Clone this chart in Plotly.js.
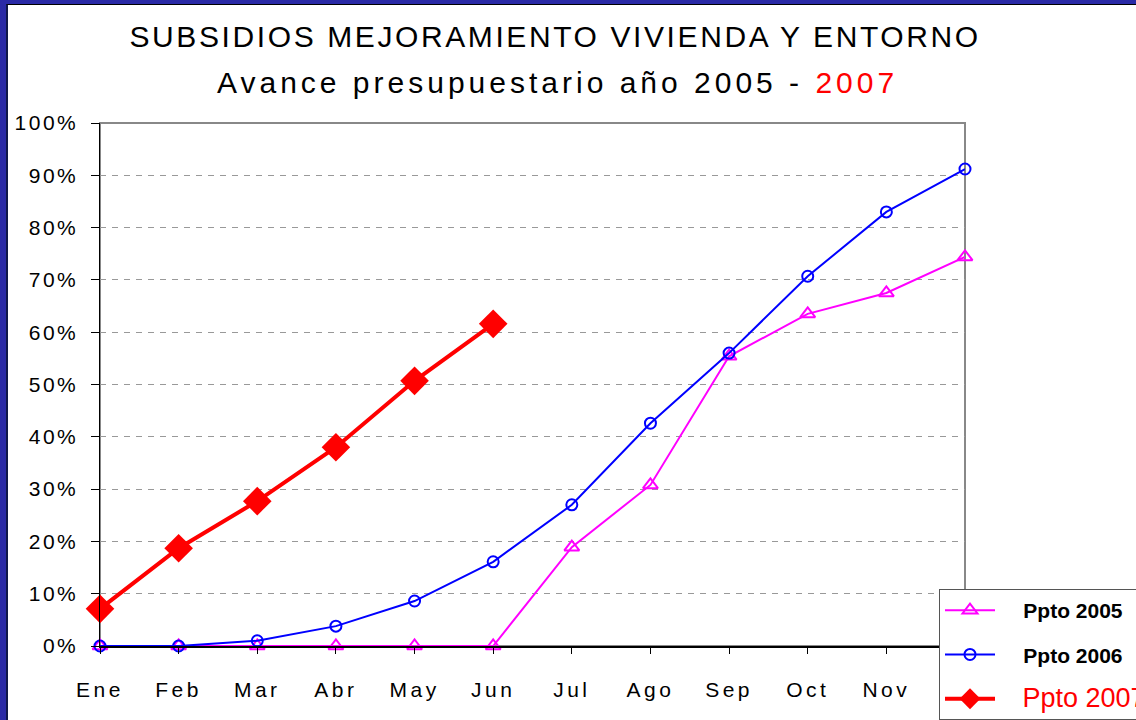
<!DOCTYPE html>
<html>
<head>
<meta charset="utf-8">
<script src="https://cdn.plot.ly/plotly-3.0.1.min.js"></script>
<style>
  html, body { margin: 0; padding: 0; background: #2a2aa6; width: 1136px; height: 720px; overflow: hidden; }
  #wrap { position: absolute; left: 6px; top: 4px; width: 1130px; height: 716px;
          border-left: 2px solid #10184a; border-top: 1px solid #000; background: #fff; }
  #chart { width: 1128px; height: 715px; }
  .gtitle { letter-spacing: 2.6px; }
  .annotation-text { letter-spacing: 4px; }
  .xtick text { letter-spacing: 3.5px; }
  .ytick text { letter-spacing: 2.5px; }
</style>
</head>
<body>
<div id="wrap"><div id="chart"></div></div>
<script>
const months = ['Ene','Feb','Mar','Abr','May','Jun','Jul','Ago','Sep','Oct','Nov','Dic'];
const ppto2005 = [0, 0, 0, 0, 0, 0, 0.189, 0.308, 0.554, 0.635, 0.675, 0.744];
const ppto2006 = [0, 0, 0.010, 0.038, 0.086, 0.161, 0.270, 0.426, 0.560, 0.707, 0.830, 0.912];
const ppto2007 = [0.071, 0.187, 0.277, 0.380, 0.507, 0.616];
const seriesNames = ['Ppto 2005', 'Ppto 2006', 'Ppto 2007'];
const pad = '\u00a0\u00a0\u00a0\u00a0';

const data = [
  { x: months, y: ppto2005, type: 'scatter', mode: 'lines+markers', name: pad + seriesNames[0],
    legendgroup: 'a', cliponaxis: false,
    line: { color: '#ff00ff', width: 2 },
    marker: { symbol: 'triangle-up-open', size: 13, color: '#ff00ff', line: { width: 2, color: '#ff00ff' } } },
  { x: months, y: ppto2006, type: 'scatter', mode: 'lines+markers', name: pad + seriesNames[1],
    legendgroup: 'b', cliponaxis: false,
    line: { color: '#0000ff', width: 2 },
    marker: { symbol: 'circle-open', size: 11, color: '#0000ff', line: { width: 2, color: '#0000ff' } } },
  { x: months.slice(0, ppto2007.length), y: ppto2007, type: 'scatter', mode: 'lines+markers',
    name: '<span style="color:#ff0000;font-size:27px;font-weight:normal">\u00a0\u00a0\u00a0' + seriesNames[2] + '</span>',
    legendgroup: 'c', cliponaxis: false,
    line: { color: '#ff0000', width: 4 },
    marker: { symbol: 'diamond', size: 22, color: '#ff0000' } }
];

const layout = {
  width: 1128, height: 715,
  paper_bgcolor: '#ffffff', plot_bgcolor: '#ffffff',
  margin: { l: 92, r: 171, t: 118, b: 74, autoexpand: false },
  font: { family: '"Liberation Sans", Arial, sans-serif', color: '#000' },
  title: {
    text: 'SUBSIDIOS MEJORAMIENTO VIVIENDA Y ENTORNO',
    font: { size: 30, color: '#000' },
    x: 0.485, xanchor: 'center', xref: 'container',
    y: 1 - 31 / 715, yanchor: 'middle', yref: 'container'
  },
  annotations: [{
    text: 'Avance presupuestario año 2005 - <span style="color:#ff0000">2007</span>',
    xref: 'paper', yref: 'paper', x: (549 - 92) / 865, y: (641 - 77) / 523,
    showarrow: false, font: { size: 30, color: '#000' }, xanchor: 'center', yanchor: 'middle'
  }],
  xaxis: {
    type: 'category', range: [0, 11], showgrid: false, zeroline: false,
    showline: true, linecolor: '#000', linewidth: 1.5,
    ticks: 'outside', ticklen: 6, tickcolor: '#000', tickwidth: 1,
    ticklabelstandoff: 18,
    tickfont: { size: 21, color: '#000' }
  },
  yaxis: {
    range: [0, 1], dtick: 0.1, tickformat: '.0%',
    showgrid: true, gridcolor: '#999', griddash: '6px,6px', gridwidth: 1,
    zeroline: false, showline: true, linecolor: '#000', linewidth: 1.5,
    ticks: 'outside', ticklen: 8, tickcolor: '#000',
    ticklabelstandoff: 8,
    tickfont: { size: 21, color: '#000' }
  },
  shapes: [{
    type: 'rect', xref: 'paper', yref: 'paper', x0: 0, x1: 1, y0: 0, y1: 1,
    line: { color: '#888', width: 2 }, layer: 'below'
  }],
  showlegend: true,
  legend: {
    x: (931 - 92) / 865, y: (641 - 584) / 523, xanchor: 'left', yanchor: 'top',
    xref: 'paper', yref: 'paper',
    bgcolor: '#ffffff', bordercolor: '#555', borderwidth: 1,
    font: { size: 21, color: '#000', weight: 'bold' },
    traceorder: 'grouped', tracegroupgap: 14, itemwidth: 50
  }
};

Plotly.newPlot('chart', data, layout, { displayModeBar: false, staticPlot: true });
</script>
</body>
</html>
